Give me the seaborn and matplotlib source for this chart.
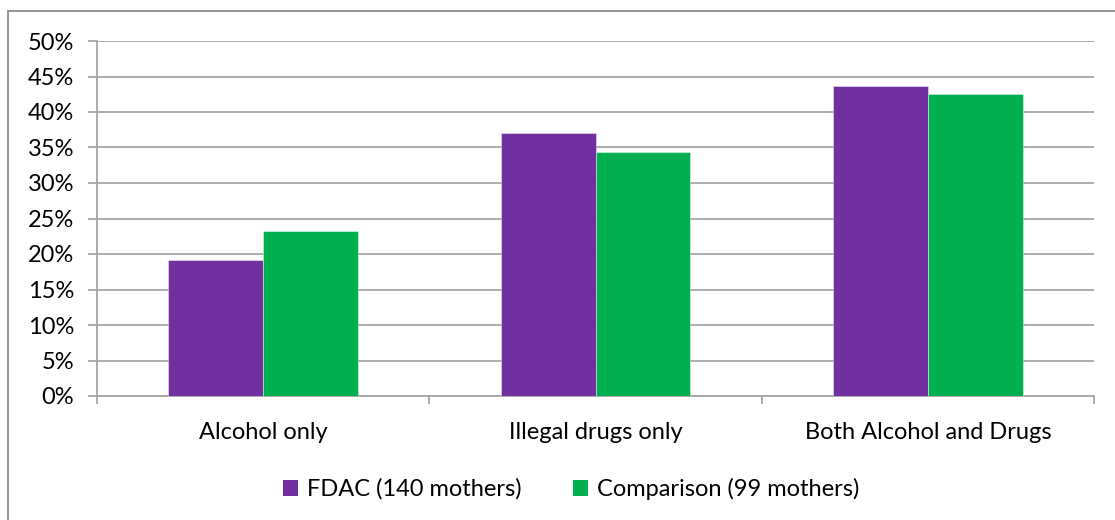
import matplotlib
matplotlib.use("Agg")
import matplotlib.pyplot as plt
from matplotlib.lines import Line2D
from matplotlib.patches import Patch
from matplotlib.ticker import FuncFormatter
import pandas as pd
import seaborn as sns

categories = ["Alcohol only", "Illegal drugs only", "Both Alcohol and Drugs"]
series_names = ["FDAC (140 mothers)", "Comparison (99 mothers)"]
fdac_values = [19.2, 37.1, 43.6]
comparison_values = [23.2, 34.3, 42.5]
y_ticks = [0, 5, 10, 15, 20, 25, 30, 35, 40, 45, 50]

colors = ["#7030A0", "#00B050"]
grid_gray = "#A6A6A6"
text_color = "#000000"

df = pd.DataFrame({
    "category": categories * 2,
    "group": [series_names[0]] * 3 + [series_names[1]] * 3,
    "value": fdac_values + comparison_values,
})

sns.set_theme(style="white")
plt.rcParams["font.family"] = ["Lato", "DejaVu Sans"]

W, H = 1115, 520
fig = plt.figure(figsize=(W / 100, H / 100), dpi=100)
ax = fig.add_axes([97 / W, 1 - 396 / H, (1094 - 97) / W, (396 - 41) / H])

sns.barplot(data=df, x="category", y="value", hue="group", order=categories,
            hue_order=series_names, palette=colors, width=0.57, gap=0,
            saturation=1, legend=False, ax=ax, zorder=3)
for bar in ax.patches:
    bar.set_edgecolor((1, 1, 1, 0.5))
    bar.set_linewidth(0.6)

ax.set_xlim(-0.5, 2.5)
ax.set_ylim(0, 50)
ax.set_yticks(y_ticks)
ax.yaxis.set_major_formatter(FuncFormatter(lambda v, _: f"{v:.0f}%"))
ax.yaxis.grid(True, color=grid_gray, linewidth=1.3, zorder=0)
ax.tick_params(axis="y", which="major", length=6.5, width=1.3, color=grid_gray,
               left=True, labelsize=17, pad=10, labelcolor=text_color)

# Category boundaries carry the tick marks; names sit in the middle
ax.set_xticks([-0.5, 0.5, 1.5, 2.5])
ax.set_xticklabels([])
ax.set_xticks([0, 1, 2], minor=True)
ax.set_xticklabels(categories, minor=True)
ax.tick_params(axis="x", which="major", length=6, width=1.3, color=grid_gray,
               bottom=True, direction="out")
ax.tick_params(axis="x", which="minor", length=0, labelsize=17, pad=19,
               labelcolor=text_color)
ax.set_xlabel("")
ax.set_ylabel("")

for side in ["top", "right"]:
    ax.spines[side].set_visible(False)
for side in ["left", "bottom"]:
    ax.spines[side].set_color(grid_gray)
    ax.spines[side].set_linewidth(1.3)

handles = [Patch(facecolor=c, edgecolor="none") for c in colors]
fig.legend(handles, series_names, loc="center", bbox_to_anchor=(571 / W, 1 - 489 / H),
           ncol=2, frameon=False, fontsize=17, handlelength=0.65, handleheight=0.65,
           handletextpad=0.35, columnspacing=2.2, labelcolor=text_color)

# Chart-area border (top and left edges)
fig.add_artist(Line2D([8 / W, 1], [1 - 11 / H, 1 - 11 / H], transform=fig.transFigure,
                      color="#8C8C8C", linewidth=1.3))
fig.add_artist(Line2D([8 / W, 8 / W], [0, 1 - 11 / H], transform=fig.transFigure,
                      color="#8C8C8C", linewidth=1.3))

fig.savefig("out.png", dpi=100, facecolor="white")
